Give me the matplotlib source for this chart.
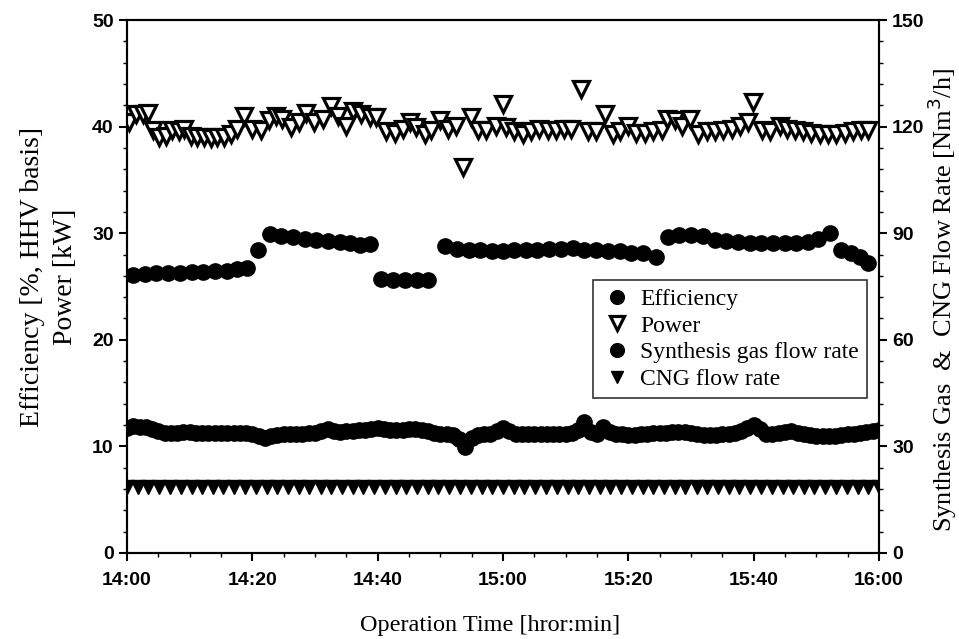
import numpy as np
import matplotlib
matplotlib.use("Agg")
import matplotlib.pyplot as plt
from matplotlib.ticker import MultipleLocator
from matplotlib.font_manager import FontProperties

# time in minutes after 14:00
eff_t = [1.0, 2.9, 4.7, 6.6, 8.5, 10.3, 12.2, 14.0, 15.9, 17.5, 19.1, 20.9, 22.8, 24.6,
         26.5, 28.4, 30.2, 32.1, 34.0, 35.6, 37.2, 38.8, 40.6, 42.5, 44.4, 46.2, 48.1,
         50.7, 52.6, 54.5, 56.3, 58.2, 60.0, 61.7, 63.6, 65.5, 67.4, 69.2, 71.1, 73.0,
         74.8, 76.7, 78.6, 80.4, 82.3, 84.4, 86.3, 88.1, 90.0, 91.9, 93.8, 95.6, 97.5,
         99.4, 101.2, 103.1, 105.0, 106.8, 108.7, 110.3, 112.2, 114.0, 115.6, 117.0, 118.3]
eff_v = [26.1, 26.2, 26.3, 26.3, 26.3, 26.4, 26.4, 26.5, 26.5, 26.6, 26.7, 28.4, 29.9, 29.7,
         29.6, 29.5, 29.4, 29.3, 29.2, 29.1, 28.9, 29.0, 25.7, 25.6, 25.6, 25.6, 25.6,
         28.8, 28.5, 28.4, 28.4, 28.3, 28.3, 28.4, 28.4, 28.4, 28.5, 28.5, 28.6, 28.4,
         28.4, 28.3, 28.3, 28.1, 28.1, 27.8, 29.6, 29.8, 29.8, 29.7, 29.4, 29.3, 29.2,
         29.1, 29.1, 29.1, 29.1, 29.1, 29.2, 29.5, 30.0, 28.4, 28.1, 27.8, 27.2]

pow_t = [0.3, 1.4, 2.5, 3.3, 4.1, 5.1, 6.2, 7.2, 8.3, 9.1, 10.2, 11.2, 12.3, 13.4, 14.4,
         15.5, 16.6, 17.6, 18.7, 20.0, 21.4, 22.7, 23.8, 24.8, 26.2, 27.5, 28.6, 29.9,
         31.2, 32.5, 33.6, 34.9, 36.0, 37.3, 38.7, 39.7, 41.3, 42.7, 44.0, 45.1, 46.1,
         47.5, 48.5, 49.9, 51.2, 52.5, 53.6, 54.9, 56.0, 57.3, 58.9, 60.0, 60.5, 61.8,
         63.2, 64.5, 65.8, 67.2, 68.5, 69.8, 70.9, 72.5, 73.6, 74.9, 76.2, 77.5, 78.6,
         79.9, 81.3, 82.6, 83.9, 85.3, 86.1, 87.4, 88.5, 89.8, 91.1, 92.5, 93.8, 95.1,
         96.5, 97.8, 99.1, 99.9, 101.3, 102.6, 104.2, 105.3, 106.6, 107.9, 109.2, 110.6,
         111.9, 113.2, 114.6, 115.9, 117.2, 118.3]
pow_v = [40.4, 41.2, 41.2, 41.3, 39.7, 39.0, 39.1, 39.7, 39.6, 39.8, 39.1, 39.0, 39.0, 38.9,
         39.0, 39.0, 39.3, 39.8, 41.0, 39.8, 39.7, 40.6, 41.0, 40.7, 40.0, 40.4, 41.3, 40.4,
         40.7, 41.9, 41.0, 40.1, 41.5, 41.2, 40.9, 40.9, 39.6, 39.4, 39.8, 40.4, 40.0,
         39.3, 39.7, 40.6, 39.8, 40.1, 36.2, 40.9, 39.7, 39.7, 40.1, 42.1, 40.0, 39.6,
         39.3, 39.6, 39.8, 39.7, 39.7, 39.8, 39.8, 43.5, 39.6, 39.6, 41.2, 39.3, 39.6,
         40.1, 39.4, 39.4, 39.6, 39.7, 40.7, 40.6, 40.1, 40.7, 39.3, 39.6, 39.6, 39.7,
         39.8, 40.1, 40.4, 42.3, 39.7, 39.6, 40.1, 39.8, 39.7, 39.6, 39.4, 39.3,
         39.3, 39.3, 39.4, 39.6, 39.7, 39.7]

syn_t = list(range(0, 121))
syn_v = [35.3, 35.6, 35.5, 35.4, 35.0,
         34.2, 33.8, 33.8, 33.9, 34.0, 34.0,
         33.9, 33.9, 33.8, 33.8, 33.9, 33.8, 33.8, 33.9, 33.8, 33.5,
         32.8, 32.3, 32.9,
         33.3, 33.5, 33.5, 33.6, 33.6, 33.8, 33.9,
         34.3, 34.8, 34.4,
         34.0, 34.2, 34.3, 34.5, 34.6, 35.0,
         35.3, 34.8,
         34.5, 34.6, 34.6, 34.8, 34.8, 34.5, 34.2, 33.9,
         33.6, 33.4, 33.2, 32.0,
         29.8,
         32.5, 33.1, 33.4, 33.6, 34.2,
         35.3,
         34.2, 33.6, 33.5, 33.5, 33.5, 33.5, 33.6, 33.6, 33.6, 33.6, 33.8,
         34.6, 36.9,
         34.0, 33.6,
         35.4,
         34.0, 33.6, 33.4, 33.2, 33.2, 33.4, 33.5, 33.7, 33.8, 33.8, 34.0,
         34.1, 34.0, 33.8, 33.5, 33.3, 33.3, 33.3, 33.5, 33.6, 33.8,
         34.2, 35.3, 36.0, 34.8,
         33.6, 33.6, 33.7, 34.0, 34.2, 33.8, 33.5, 33.2,
         32.9, 32.8, 32.8, 33.0, 33.2, 33.4, 33.6, 33.8, 34.0, 34.3, 34.5]

cng_t = [0.0, 1.7, 3.4, 5.1, 6.9, 8.6, 10.3, 12.0, 13.7, 15.4, 17.1, 18.9, 20.6, 22.3,
         24.0, 25.7, 27.4, 29.1, 30.9, 32.6, 34.3, 36.0, 37.7, 39.4, 41.1, 42.9, 44.6,
         46.3, 48.0, 49.7, 51.4, 53.1, 54.9, 56.6, 58.3, 60.0, 61.7, 63.4, 65.1, 66.9,
         68.6, 70.3, 72.0, 73.7, 75.4, 77.1, 78.9, 80.6, 82.3, 84.0, 85.7, 87.4, 89.1,
         90.9, 92.6, 94.3, 96.0, 97.7, 99.4, 101.1, 102.9, 104.6, 106.3, 108.0, 109.7,
         111.4, 113.1, 114.9, 116.6, 118.3, 120.0]
cng_v = [18.6, 18.6, 18.6, 18.6, 18.6, 18.6, 18.6, 18.6, 18.6, 18.6, 18.6, 18.6, 18.6, 18.6,
         18.6, 18.6, 18.6, 18.6, 18.6, 18.6, 18.6, 18.6, 18.6, 18.6, 18.6, 18.6, 18.6,
         18.6, 18.6, 18.6, 18.6, 18.6, 18.6, 18.6, 18.6, 18.6, 18.6, 18.6, 18.6, 18.6,
         18.6, 18.6, 18.6, 18.6, 18.6, 18.6, 18.6, 18.6, 18.6, 18.6, 18.6, 18.6, 18.6,
         18.6, 18.6, 18.6, 18.6, 18.6, 18.6, 18.6, 18.6, 18.6, 18.6, 18.6, 18.6,
         18.6, 18.6, 18.6, 18.6, 18.6, 18.6]

x_ticks = [0, 20, 40, 60, 80, 100, 120]
x_labels = ["14:00", "14:20", "14:40", "15:00", "15:20", "15:40", "16:00"]

fig = plt.figure(figsize=(9.59, 6.39), dpi=100)
ax = fig.add_axes([0.1324, 0.1346, 0.7842, 0.8341])
ax2 = ax.twinx()

ax.plot(eff_t, eff_v, "o", color="black", ms=11, ls="none", label="Efficiency")
ax.plot(pow_t, pow_v, "v", mfc="white", mec="black", mew=2.3, ms=11, ls="none", label="Power")
ax2.plot(syn_t, syn_v, "o", color="black", ms=11, ls="none", label="Synthesis gas flow rate")
ax2.plot(cng_t, cng_v, "v", color="black", ms=10, ls="none", label="CNG flow rate")

ax.set_xlim(0, 120)
ax.set_ylim(0, 50)
ax2.set_ylim(0, 150)
ax.set_xticks(x_ticks)
ax.set_xticklabels(x_labels)
ax.xaxis.set_minor_locator(MultipleLocator(5))
ax.yaxis.set_major_locator(MultipleLocator(10))
ax.yaxis.set_minor_locator(MultipleLocator(2))
ax2.yaxis.set_major_locator(MultipleLocator(30))
ax2.yaxis.set_minor_locator(MultipleLocator(6))

tick_fp = FontProperties(family="Liberation Sans", size=14, weight="bold")
for a in (ax, ax2):
    for lab in a.get_xticklabels() + a.get_yticklabels():
        lab.set_fontproperties(tick_fp)
    a.tick_params(which="major", direction="out", length=6, width=1.5)
    a.tick_params(which="minor", direction="out", length=3, width=1)
    for s in a.spines.values():
        s.set_linewidth(1.5)
ax.tick_params(axis="x", which="major", pad=8)

serif = "Liberation Serif"
fig.text(490 / 959, 1 - 625 / 639, "Operation Time [hror:min]", family=serif,
         fontsize=17.5, ha="center", va="center")
fig.text(33 / 959, 1 - 277 / 639, "Efficiency [%, HHV basis]", family=serif,
         fontsize=20, ha="center", va="center", rotation=90)
fig.text(65 / 959, 1 - 277 / 639, "Power [kW]", family=serif,
         fontsize=20, ha="center", va="center", rotation=90)
fig.text(942 / 959, 1 - 300 / 639, "Synthesis Gas  &  CNG Flow Rate [Nm$^3$/h]",
         family=serif, fontsize=19, ha="center", va="center", rotation=90)

h1, l1 = ax.get_legend_handles_labels()
h2, l2 = ax2.get_legend_handles_labels()
leg = ax2.legend(h1 + h2, l1 + l2, loc="upper left", bbox_to_anchor=(0.62, 0.512),
                 borderaxespad=0, prop=dict(family=serif, size=17), frameon=True,
                 fancybox=False, edgecolor="black", handletextpad=0.35, labelspacing=0.22,
                 borderpad=0.35, handlelength=1.3, markerscale=0.9)
leg.get_frame().set_linewidth(1.2)

fig.savefig("out.png", dpi=100)
